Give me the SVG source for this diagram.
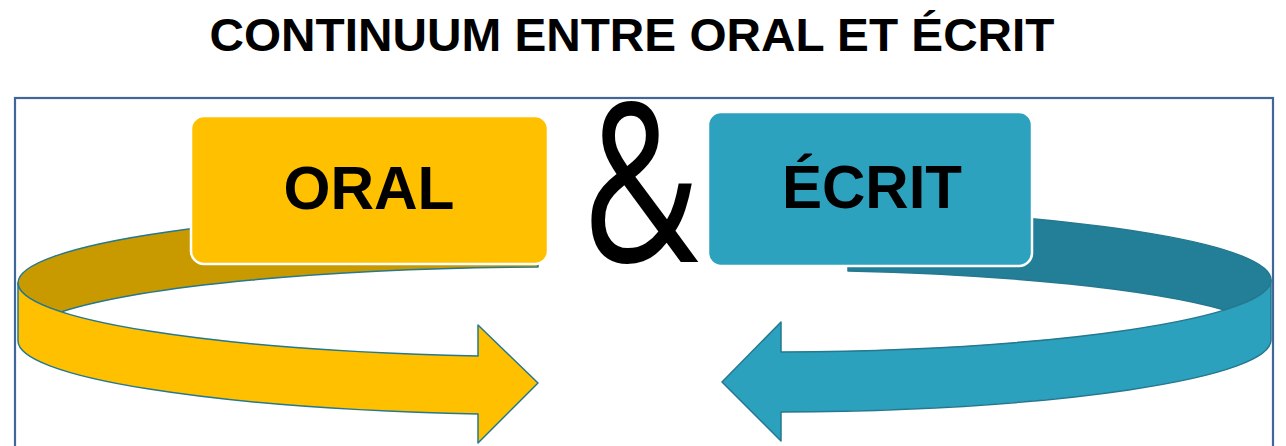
<svg xmlns="http://www.w3.org/2000/svg" width="1286" height="446" viewBox="0 0 1286 446">
<style>
  .t { font-family: "Liberation Sans", Arial, sans-serif; font-weight: bold; fill: #000; }
  .edge { stroke: #25788F; stroke-width: 1.5; stroke-linejoin: round; }
  .box { stroke: #FFFFFF; stroke-width: 2.5; }
</style>
<rect width="1286" height="446" fill="#FFFFFF"/>
<text class="t" x="632" y="51" font-size="47" text-anchor="middle" textLength="845" lengthAdjust="spacingAndGlyphs">CONTINUUM ENTRE ORAL ET ÉCRIT</text>
<rect id="frame" x="15" y="98" width="1258" height="400" fill="#FFFFFF" stroke="#41669A" stroke-width="2.2"/>

<g id="connectors">
  <g id="arrow-oral">
    <path class="edge" fill="#C99A00" d="M538,209 A542,74 0 0 0 18,283 A542,74 0 0 0 61,312 A542,74 0 0 1 538,267 Z"/>
    <path class="edge" fill="#FFC000" d="M18,283 A542,74 0 0 0 478,356 L478,325 L538,383 L478,443 L478,414 A542,74 0 0 1 18,341 Z"/>
  </g>
  <g id="arrow-ecrit">
    <path class="edge" fill="#237F97" d="M848,209 A511,72 0 0 1 1271,280 A511,72 0 0 1 1224.5,310 A511,72 0 0 0 848,271 Z"/>
    <path class="edge" fill="#2CA1BD" d="M1271,280 A511,72 0 0 1 781,352 L781,322 L722,382 L781,441 L781,412 A511,72 0 0 0 1271,340 Z"/>
  </g>
</g>

<g id="node-oral">
  <rect class="box" x="191" y="116" width="357" height="148" rx="13" fill="#FFC000"/>
  <text class="t" x="369" y="209" font-size="62" text-anchor="middle" textLength="171" lengthAdjust="spacingAndGlyphs">ORAL</text>
</g>
<g id="node-ecrit">
  <rect class="box" x="708" y="112" width="324" height="154" rx="13" fill="#2DA2BE"/>
  <text class="t" x="872" y="208" font-size="62" text-anchor="middle" textLength="180" lengthAdjust="spacingAndGlyphs">ÉCRIT</text>
</g>
<g id="ampersand">
  <text transform="translate(641,262) scale(0.72,1)" font-family="'Open Sans', 'Noto Sans', sans-serif" font-size="222" text-anchor="middle" fill="#000">&amp;</text>
</g>
</svg>
